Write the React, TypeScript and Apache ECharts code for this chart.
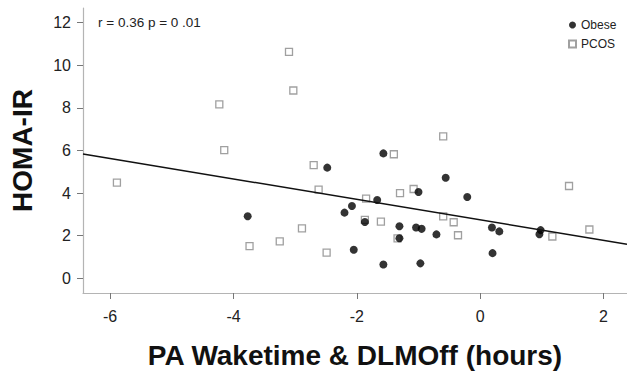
import React, { useEffect, useRef } from "react";
import * as echarts from "echarts";

// Obese group: [PA Waketime & DLMOff (hours), HOMA-IR]
const obeseX = [-3.77, -2.48, -2.08, -2.2, -1.87, -2.05, -1.57, -0.56, -1.0, -0.21, -1.67, -1.31, -1.04, -0.95, -0.71, -1.31, -1.57, -0.97, 0.19, 0.31, 0.2, 0.98, 0.96];
const obeseY = [2.91, 5.19, 3.39, 3.08, 2.64, 1.34, 5.86, 4.72, 4.05, 3.81, 3.67, 2.44, 2.38, 2.32, 2.06, 1.88, 0.65, 0.7, 2.38, 2.2, 1.18, 2.26, 2.07];

// PCOS group
const pcosX = [-4.23, -4.15, -3.1, -3.03, -1.4, -5.89, -2.7, -2.62, -2.89, -3.74, -3.25, -2.49, -1.85, -1.87, -0.6, -1.3, -1.08, -0.6, -0.43, -0.36, -1.61, -1.34, 1.17, 1.44, 1.77];
const pcosY = [8.16, 6.01, 10.62, 8.81, 5.82, 4.49, 5.31, 4.16, 2.34, 1.51, 1.73, 1.2, 3.74, 2.74, 6.66, 4.0, 4.19, 2.9, 2.63, 2.02, 2.66, 1.87, 1.96, 4.33, 2.29];

// Fitted regression line
const fitIntercept = 2.74;
const fitSlope = -0.48;

// Axis extents and tick labels
const xMin = -6.44;
const xMax = 2.38;
const yMin = -0.69;
const yMax = 12.68;
const xTicks = [-6, -4, -2, 0, 2];
const yTicks = [0, 2, 4, 6, 8, 10, 12];

const seriesNames = ["Obese", "PCOS"];
const annotation = "r = 0.36 p = 0 .01";

const FONT = "'Liberation Sans', Arial, Helvetica, sans-serif";

export default function App() {
  const ref = useRef<HTMLDivElement>(null);

  useEffect(() => {
    if (!ref.current) return;
    const chart = echarts.init(ref.current, undefined, { renderer: "svg" });
    const zip = (xs: number[], ys: number[]) => xs.map((x, i) => [x, ys[i]]);
    const fitLine = [xMin, xMax].map((x) => [x, fitIntercept + fitSlope * x]);

    chart.setOption({
      animation: false,
      backgroundColor: "#ffffff",
      textStyle: { fontFamily: FONT },
      grid: { left: 83, right: 0, top: 8, bottom: 80, containLabel: false },
      legend: {
        orient: "vertical",
        left: 563,
        top: 14,
        itemWidth: 7,
        itemHeight: 7,
        itemGap: 7,
        textStyle: { fontSize: 12, color: "#222", fontFamily: FONT, lineHeight: 12 },
        data: [
          { name: seriesNames[0], icon: "circle" },
          { name: seriesNames[1], icon: "rect" },
        ],
      },
      xAxis: {
        type: "value",
        min: xMin,
        max: xMax,
        name: "PA Waketime & DLMOff (hours)",
        nameLocation: "middle",
        nameGap: 48,
        nameTextStyle: { fontSize: 28, fontWeight: "bold", color: "#111", fontFamily: FONT },
        axisLine: { show: true, onZero: false, lineStyle: { color: "#b4b4b4", width: 1.2 } },
        axisTick: { show: true, length: 6, customValues: xTicks, lineStyle: { color: "#777" } },
        axisLabel: { customValues: xTicks, fontSize: 16, color: "#222", margin: 15, fontFamily: FONT },
        splitLine: { show: false },
      },
      yAxis: {
        type: "value",
        min: yMin,
        max: yMax,
        name: "HOMA-IR",
        nameLocation: "middle",
        nameGap: 47,
        nameTextStyle: { fontSize: 28, fontWeight: "bold", color: "#111", fontFamily: FONT },
        axisLine: { show: true, onZero: false, lineStyle: { color: "#b4b4b4", width: 1.2 } },
        axisTick: { show: true, length: 6, customValues: yTicks, lineStyle: { color: "#777" } },
        axisLabel: { customValues: yTicks, fontSize: 16, color: "#222", margin: 12, fontFamily: FONT },
        splitLine: { show: false },
      },
      graphic: [
        {
          type: "text",
          x: 98,
          y: 22,
          style: {
            text: annotation,
            fontSize: 13.5,
            fill: "#222",
            fontFamily: FONT,
            textVerticalAlign: "middle",
          },
        },
      ],
      series: [
        {
          name: seriesNames[1],
          type: "scatter",
          symbol: "rect",
          symbolSize: 7,
          data: zip(pcosX, pcosY),
          itemStyle: { color: "#ffffff", borderColor: "#888888", borderWidth: 1.3 },
          z: 2,
        },
        {
          name: seriesNames[0],
          type: "scatter",
          symbol: "circle",
          symbolSize: 8,
          data: zip(obeseX, obeseY),
          itemStyle: { color: "#000000" },
          z: 3,
        },
        {
          name: "fit",
          type: "line",
          data: fitLine,
          symbol: "none",
          lineStyle: { color: "#111", width: 1.5 },
          z: 4,
          silent: true,
        },
      ],
    });
    return () => chart.dispose();
  }, []);

  return (
    <div
      ref={ref}
      style={{ position: "fixed", left: 0, top: 0, width: 627, height: 374, background: "#fff" }}
    />
  );
}
